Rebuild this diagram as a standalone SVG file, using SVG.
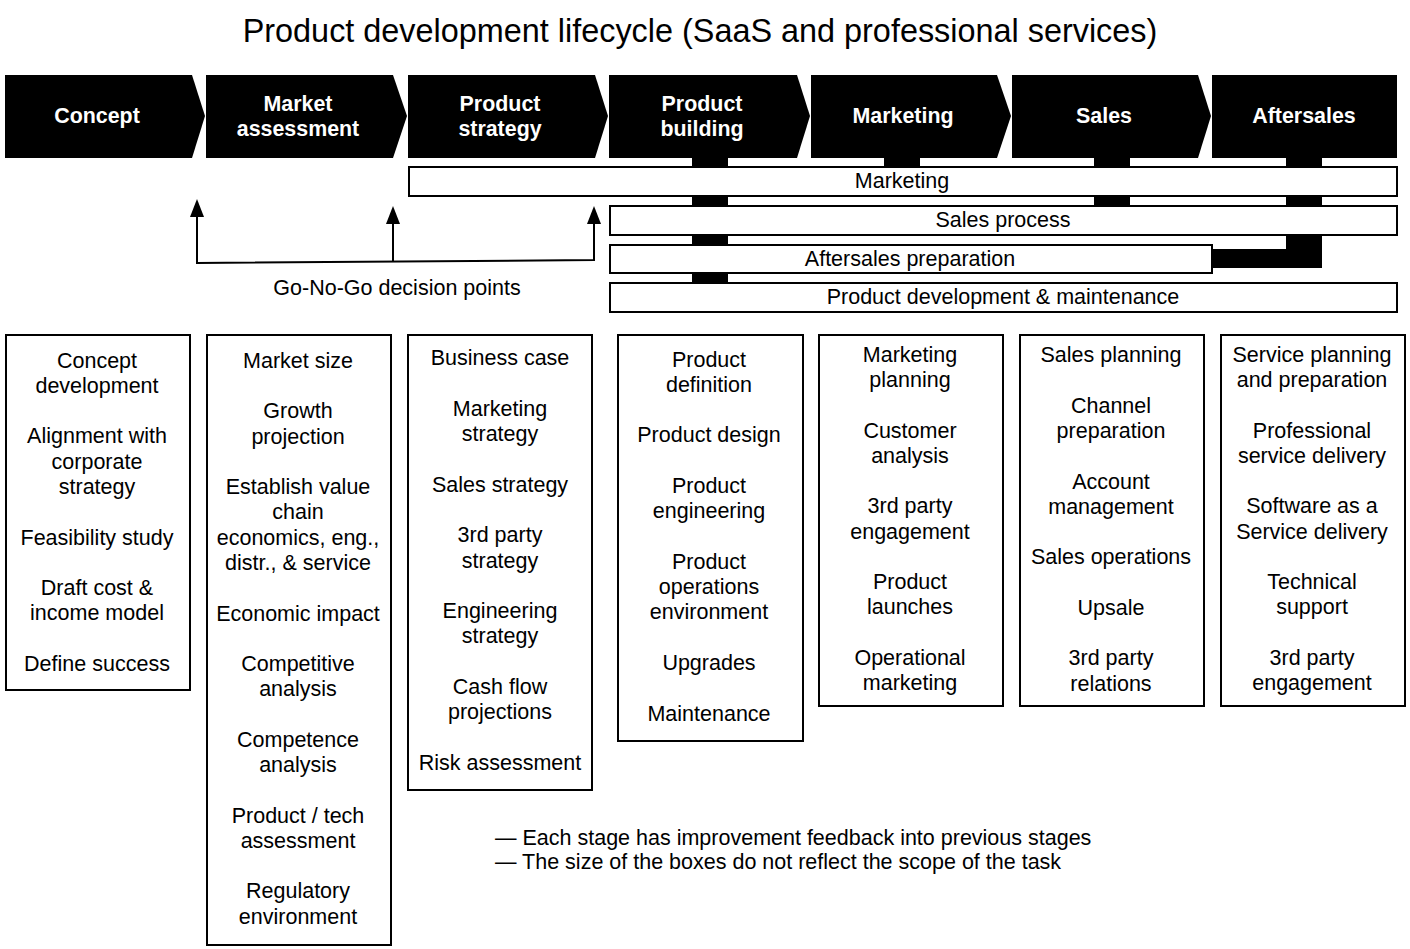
<svg xmlns="http://www.w3.org/2000/svg" width="1410" height="949" viewBox="0 0 1410 949">
<style>
text{font-family:"Liberation Sans",Arial,sans-serif;fill:#000}
.title{font-size:32.4px}
.stage{font-size:21.4px;font-weight:bold;fill:#fff;text-anchor:middle}
.chev{fill:#000}
.bar{fill:#fff;stroke:#000;stroke-width:2}
.blbl{font-size:21.5px;text-anchor:middle}
.box{fill:#fff;stroke:#000;stroke-width:2}
.item{font-size:21.5px;text-anchor:middle}
.note{font-size:21.5px}
.link{fill:#000}
.arr{fill:none;stroke:#000;stroke-width:2}
</style>
<rect width="1410" height="949" fill="#fff"/>
<text class="title" x="700" y="42" text-anchor="middle">Product development lifecycle (SaaS and professional services)</text>

<g id="connectors">
<rect class="link" x="692" y="156" width="36" height="128"/>
<rect class="link" x="884" y="156" width="36" height="12"/>
<rect class="link" x="1094" y="156" width="36" height="51"/>
<rect class="link" x="1286" y="156" width="36" height="112"/>
<rect class="link" x="1210" y="249" width="112" height="19"/>
<path class="arr" d="M197,217 V263 L594,260 V224"/>
<path class="arr" d="M393,262 V224"/>
<path d="M190,217 L197,199 L204,217 Z" fill="#000"/>
<path d="M386,224 L393,206 L400,224 Z" fill="#000"/>
<path d="M587,224 L594,206 L601,224 Z" fill="#000"/>
</g>

<g id="stage-concept">
<path class="chev" d="M5,75 H192 L205,116 L192,158 H5 Z"/>
<text class="stage" x="97" y="123">Concept</text>
</g>
<g id="stage-market-assessment">
<path class="chev" d="M206,75 H393 L407,116 L393,158 H206 Z"/>
<text class="stage" x="298" y="111">Market</text>
<text class="stage" x="298" y="136">assessment</text>
</g>
<g id="stage-product-strategy">
<path class="chev" d="M408,75 H595 L608,116 L595,158 H408 Z"/>
<text class="stage" x="500" y="111">Product</text>
<text class="stage" x="500" y="136">strategy</text>
</g>
<g id="stage-product-building">
<path class="chev" d="M609,75 H797 L810,116 L797,158 H609 Z"/>
<text class="stage" x="702" y="111">Product</text>
<text class="stage" x="702" y="136">building</text>
</g>
<g id="stage-marketing">
<path class="chev" d="M811,75 H997 L1011,116 L997,158 H811 Z"/>
<text class="stage" x="903" y="123">Marketing</text>
</g>
<g id="stage-sales">
<path class="chev" d="M1012,75 H1198 L1211,116 L1198,158 H1012 Z"/>
<text class="stage" x="1104" y="123">Sales</text>
</g>
<g id="stage-aftersales">
<path class="chev" d="M1212,75 H1397 V158 H1212 Z"/>
<text class="stage" x="1304" y="123">Aftersales</text>
</g>

<g id="bar-marketing">
<rect class="bar" x="409" y="167" width="988" height="29"/>
<text class="blbl" x="902" y="188">Marketing</text>
</g>
<g id="bar-sales-process">
<rect class="bar" x="610" y="206" width="787" height="29"/>
<text class="blbl" x="1003" y="227">Sales process</text>
</g>
<g id="bar-aftersales-preparation">
<rect class="bar" x="610" y="245" width="602" height="28"/>
<text class="blbl" x="910" y="266">Aftersales preparation</text>
</g>
<g id="bar-product-development">
<rect class="bar" x="610" y="283" width="787" height="29"/>
<text class="blbl" x="1003" y="304">Product development &amp; maintenance</text>
</g>

<g id="label-go-no-go">
<text class="blbl" x="397" y="295">Go-No-Go decision points</text>
</g>

<g id="box-concept">
<rect class="box" x="6" y="335" width="184" height="355"/>
<text class="item" x="97" y="368">Concept</text>
<text class="item" x="97" y="393">development</text>
<text class="item" x="97" y="443">Alignment with</text>
<text class="item" x="97" y="469">corporate</text>
<text class="item" x="97" y="494">strategy</text>
<text class="item" x="97" y="545">Feasibility study</text>
<text class="item" x="97" y="595">Draft cost &amp;</text>
<text class="item" x="97" y="620">income model</text>
<text class="item" x="97" y="671">Define success</text>
</g>

<g id="box-market-assessment">
<rect class="box" x="207" y="335" width="184" height="610"/>
<text class="item" x="298" y="368">Market size</text>
<text class="item" x="298" y="418">Growth</text>
<text class="item" x="298" y="444">projection</text>
<text class="item" x="298" y="494">Establish value</text>
<text class="item" x="298" y="519">chain</text>
<text class="item" x="298" y="545">economics, eng.,</text>
<text class="item" x="298" y="570">distr., &amp; service</text>
<text class="item" x="298" y="621">Economic impact</text>
<text class="item" x="298" y="671">Competitive</text>
<text class="item" x="298" y="696">analysis</text>
<text class="item" x="298" y="747">Competence</text>
<text class="item" x="298" y="772">analysis</text>
<text class="item" x="298" y="823">Product / tech</text>
<text class="item" x="298" y="848">assessment</text>
<text class="item" x="298" y="898">Regulatory</text>
<text class="item" x="298" y="924">environment</text>
</g>

<g id="box-product-strategy">
<rect class="box" x="408" y="335" width="184" height="455"/>
<text class="item" x="500" y="365">Business case</text>
<text class="item" x="500" y="416">Marketing</text>
<text class="item" x="500" y="441">strategy</text>
<text class="item" x="500" y="492">Sales strategy</text>
<text class="item" x="500" y="542">3rd party</text>
<text class="item" x="500" y="568">strategy</text>
<text class="item" x="500" y="618">Engineering</text>
<text class="item" x="500" y="643">strategy</text>
<text class="item" x="500" y="694">Cash flow</text>
<text class="item" x="500" y="719">projections</text>
<text class="item" x="500" y="770">Risk assessment</text>
</g>

<g id="box-product-building">
<rect class="box" x="618" y="335" width="185" height="406"/>
<text class="item" x="709" y="367">Product</text>
<text class="item" x="709" y="392">definition</text>
<text class="item" x="709" y="442">Product design</text>
<text class="item" x="709" y="493">Product</text>
<text class="item" x="709" y="518">engineering</text>
<text class="item" x="709" y="569">Product</text>
<text class="item" x="709" y="594">operations</text>
<text class="item" x="709" y="619">environment</text>
<text class="item" x="709" y="670">Upgrades</text>
<text class="item" x="709" y="721">Maintenance</text>
</g>

<g id="box-marketing">
<rect class="box" x="819" y="335" width="184" height="371"/>
<text class="item" x="910" y="362">Marketing</text>
<text class="item" x="910" y="387">planning</text>
<text class="item" x="910" y="438">Customer</text>
<text class="item" x="910" y="463">analysis</text>
<text class="item" x="910" y="513">3rd party</text>
<text class="item" x="910" y="539">engagement</text>
<text class="item" x="910" y="589">Product</text>
<text class="item" x="910" y="614">launches</text>
<text class="item" x="910" y="665">Operational</text>
<text class="item" x="910" y="690">marketing</text>
</g>

<g id="box-sales">
<rect class="box" x="1020" y="335" width="184" height="371"/>
<text class="item" x="1111" y="362">Sales planning</text>
<text class="item" x="1111" y="413">Channel</text>
<text class="item" x="1111" y="438">preparation</text>
<text class="item" x="1111" y="489">Account</text>
<text class="item" x="1111" y="514">management</text>
<text class="item" x="1111" y="564">Sales operations</text>
<text class="item" x="1111" y="615">Upsale</text>
<text class="item" x="1111" y="665">3rd party</text>
<text class="item" x="1111" y="691">relations</text>
</g>

<g id="box-aftersales">
<rect class="box" x="1221" y="335" width="184" height="371"/>
<text class="item" x="1312" y="362">Service planning</text>
<text class="item" x="1312" y="387">and preparation</text>
<text class="item" x="1312" y="438">Professional</text>
<text class="item" x="1312" y="463">service delivery</text>
<text class="item" x="1312" y="513">Software as a</text>
<text class="item" x="1312" y="539">Service delivery</text>
<text class="item" x="1312" y="589">Technical</text>
<text class="item" x="1312" y="614">support</text>
<text class="item" x="1312" y="665">3rd party</text>
<text class="item" x="1312" y="690">engagement</text>
</g>

<g id="notes">
<text class="note" x="495" y="845">— Each stage has improvement feedback into previous stages</text>
<text class="note" x="495" y="869">— The size of the boxes do not reflect the scope of the task</text>
</g>
</svg>
